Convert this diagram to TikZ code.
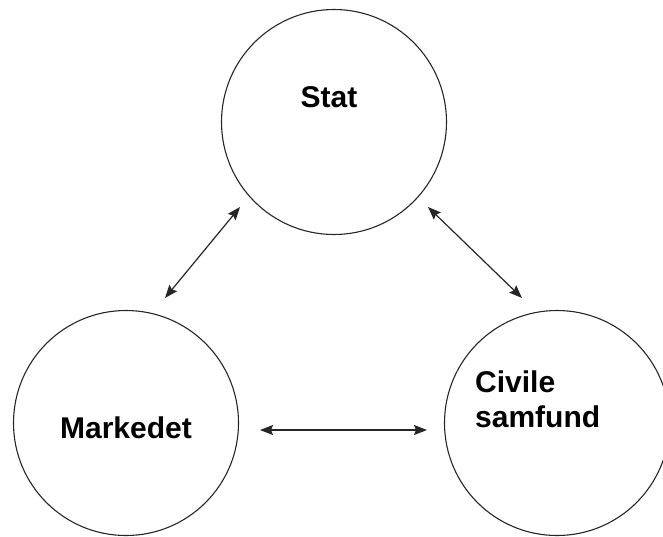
\documentclass[tikz,border=0pt]{standalone}
\usepackage{fontspec}
\setmainfont{Liberation Sans}
\usetikzlibrary{arrows.meta}
\begin{document}
\begin{tikzpicture}[x=1pt,y=-1pt,
  sphere/.style={circle,draw=black!85,line width=1.1pt,minimum size=225pt,inner sep=0pt},
  lbl/.style={font=\fontsize{30}{35}\selectfont\bfseries,inner sep=0pt},
  link/.style={draw=black!85,line width=1.2pt,
    {Stealth[length=13pt,width=10pt,inset=2pt]}-{Stealth[length=13pt,width=10pt,inset=2pt]}}]
\useasboundingbox (0,0) rectangle (663,536);
% the three spheres
\node[sphere] (stat) at (334,122) {};
\node[sphere] (marked) at (126,423) {};
\node[sphere] (civil) at (557,423) {};
% their labels
\node[lbl] (tstat) at (329,97) {Stat};
\node[lbl] (tmarked) at (126,428) {Markedet};
\node[lbl,align=left,anchor=north west] (tcivil) at (475,371) {Civile\\samfund};
% arrow end points, set a little away from the circles
\coordinate (sm1) at (240,207);
\coordinate (sm2) at (165,298);
\coordinate (sc1) at (428,207);
\coordinate (sc2) at (522,298);
\coordinate (mc1) at (260,430);
\coordinate (mc2) at (427,430);
% two-way relations
\draw[link] (sm1) -- (sm2);
\draw[link] (sc1) -- (sc2);
\draw[link] (mc1) -- (mc2);
\end{tikzpicture}
\end{document}
